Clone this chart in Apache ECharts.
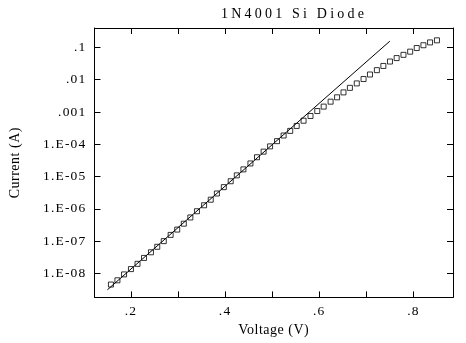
<!DOCTYPE html>
<html>
<head>
<meta charset="utf-8">
<script src="https://cdn.jsdelivr.net/npm/echarts@6/dist/echarts.min.js"></script>
<style>
html,body{margin:0;padding:0;background:#fff;}
#chart{width:466px;height:343px;}
</style>
</head>
<body>
<div id="chart"></div>
<script>
// Measured data (Voltage in V, Current in A)
const voltage = [0.1575,0.1713,0.1854,0.2000,0.2140,0.2278,0.2425,0.2559,0.2697,0.2843,
  0.2983,0.3123,0.3262,0.3402,0.3554,0.3695,0.3826,0.3973,0.4119,0.4249,
  0.4389,0.4538,0.4678,0.4818,0.4956,0.5103,0.5243,0.5383,0.5521,0.5667,
  0.5814,0.5958,0.6094,0.6241,0.6379,0.6515,0.6651,0.6797,0.6941,0.7077,
  0.7224,0.7362,0.7502,0.7644,0.7789,0.7931,0.8071,0.8213,0.8354,0.8500];
const current = [4.52e-9,6.11e-9,9.31e-9,1.36e-8,1.98e-8,3.02e-8,4.51e-8,6.68e-8,1.00e-7,1.56e-7,
  2.28e-7,3.47e-7,5.41e-7,8.43e-7,1.29e-6,1.92e-6,2.99e-6,4.70e-6,7.16e-6,1.09e-5,
  1.67e-5,2.55e-5,3.97e-5,5.92e-5,8.61e-5,1.25e-4,1.87e-4,2.60e-4,3.70e-4,5.37e-4,
  7.52e-4,1.07e-3,1.47e-3,2.09e-3,2.85e-3,4.05e-3,5.60e-3,7.68e-3,1.05e-2,1.45e-2,
  1.98e-2,2.67e-2,3.66e-2,4.68e-2,5.90e-2,7.40e-2,9.59e-2,0.117,0.143,0.166];
// Fitted exponential (straight on log axis): endpoints
const fitVoltage = [0.15, 0.75];
const fitCurrent = [3.11e-9, 0.157];
// Tick labels
const xTickValues = [0.2,0.3,0.4,0.5,0.6,0.7,0.8];
const xLabelValues = [0.2,0.4,0.6,0.8];
const xLabelTexts = ['.2','.4','.6','.8'];
const yTickValues = [0.1,0.01,0.001,1e-4,1e-5,1e-6,1e-7,1e-8];
const yTickLabels = ['.1','.01','.001','1.E-04','1.E-05','1.E-06','1.E-07','1.E-08'];
const titleText = '1N4001 Si Diode';
const xName = 'Voltage (V)';
const yName = 'Current (A)';

const FONT = 'Liberation Serif';
const X_MIN = 0.1226, X_MAX = 0.8841;
const Y_MIN = 1.807e-9, Y_MAX = 0.4;

// Wider letter spacing, as in the bitmap font of the original (keyed by font size)
const SPACING = {'14.02px':'3.2px', '13.5px':'1.2px', '14.01px':'0.5px'};
(function(){
  const proto = window.CanvasRenderingContext2D && CanvasRenderingContext2D.prototype;
  if (!proto || !('letterSpacing' in proto)) return;
  const desc = Object.getOwnPropertyDescriptor(proto, 'font');
  if (!desc || !desc.set) return;
  Object.defineProperty(proto, 'font', {
    configurable:true, enumerable:desc.enumerable,
    get(){ return desc.get.call(this); },
    set(v){
      desc.set.call(this, v);
      let sp = '0px';
      for (const k in SPACING) { if (String(v).indexOf(k) >= 0) { sp = SPACING[k]; break; } }
      try { this.letterSpacing = sp; } catch(e) {}
    }
  });
})();

function yLabel(v){
  for (let i=0;i<yTickValues.length;i++){
    if (Math.abs(Math.log10(v) - Math.log10(yTickValues[i])) < 1e-6) return yTickLabels[i];
  }
  return '';
}
function xLabel(v){
  for (let i=0;i<xLabelValues.length;i++){
    if (Math.abs(v - xLabelValues[i]) < 1e-6) return xLabelTexts[i];
  }
  return '';
}

const chart = echarts.init(document.getElementById('chart'), null, {renderer:'canvas'});
const axisLine = {show:true, onZero:false, lineStyle:{color:'#000', width:1}};
const tick = {show:true, inside:true, length:6, lineStyle:{color:'#000', width:1}};
chart.setOption({
  animation:false,
  backgroundColor:'#fff',
  title:{text:titleText, left:216, top:1,
    textStyle:{fontFamily:FONT, fontSize:14.02, fontWeight:'normal', color:'#000'}},
  grid:{left:89, top:28, right:13, bottom:42, containLabel:false},
  xAxis:[
    {type:'value', position:'bottom', min:X_MIN, max:X_MAX,
     name:xName, nameLocation:'middle', nameGap:16,
     nameTextStyle:{fontFamily:FONT, fontSize:14.01, color:'#000'},
     axisLine:axisLine,
     axisTick:Object.assign({customValues:xTickValues}, tick),
     axisLabel:{customValues:xLabelValues, formatter:xLabel, margin:6,
       fontFamily:FONT, fontSize:13.5, color:'#000'},
     splitLine:{show:false}},
    {type:'value', position:'top', min:X_MIN, max:X_MAX,
     axisLine:axisLine,
     axisTick:Object.assign({customValues:xTickValues}, tick),
     axisLabel:{show:false},
     splitLine:{show:false}}
  ],
  yAxis:[
    {type:'log', logBase:10, position:'left', min:Y_MIN, max:Y_MAX,
     name:yName, nameLocation:'middle', nameGap:72, nameRotate:90,
     nameTextStyle:{fontFamily:FONT, fontSize:14.01, color:'#000'},
     axisLine:axisLine, axisTick:tick,
     axisLabel:{formatter:yLabel, margin:8, showMinLabel:false, showMaxLabel:false,
       fontFamily:FONT, fontSize:13.5, color:'#000'},
     splitLine:{show:false}, minorTick:{show:false}},
    {type:'log', logBase:10, position:'right', min:Y_MIN, max:Y_MAX,
     axisLine:axisLine, axisTick:tick,
     axisLabel:{show:false},
     splitLine:{show:false}}
  ],
  series:[
    {type:'line', name:'fit', xAxisIndex:0, yAxisIndex:0,
     data:fitVoltage.map((v,i)=>[v, fitCurrent[i]]),
     symbol:'none', lineStyle:{color:'#000', width:1}, silent:true, z:2},
    {type:'scatter', name:'data', xAxisIndex:0, yAxisIndex:0,
     data:voltage.map((v,i)=>[v, current[i]]),
     symbol:'rect', symbolSize:5,
     itemStyle:{color:'rgba(0,0,0,0)', borderColor:'#000', borderWidth:1}, z:3}
  ]
});
</script>
</body>
</html>
